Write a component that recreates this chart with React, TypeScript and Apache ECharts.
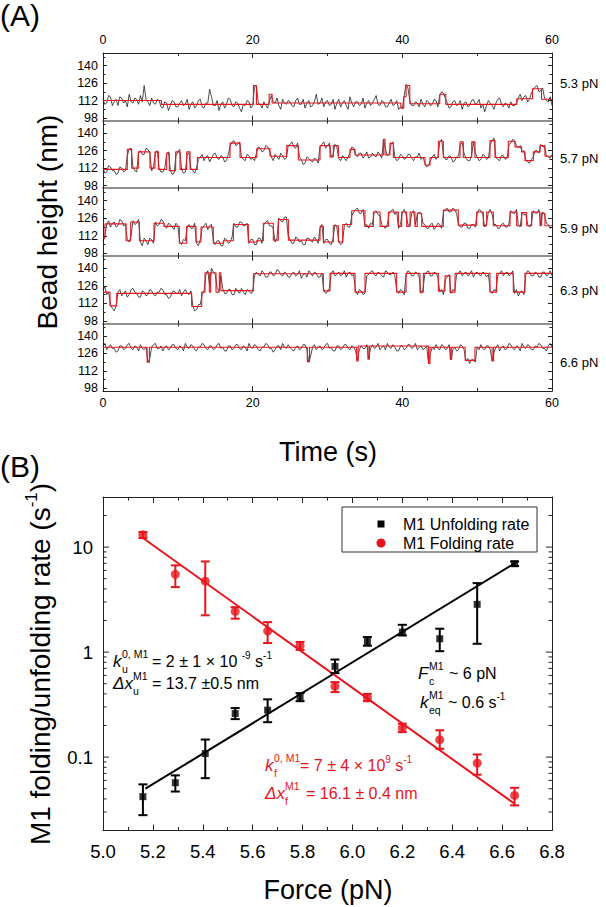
import React, { useEffect, useRef } from 'react';
import * as echarts from 'echarts';

// ---------------- Panel A data ----------------
const timeStep = 0.25; // seconds between trace samples
const forceLabels = ['5.3 pN', '5.7 pN', '5.9 pN', '6.3 pN', '6.6 pN'];
const heightTicks = [98, 112, 126, 140];
const heightMinorTicks = [105, 119, 133, 147];

const trace53 = [
  113, 109, 110, 116, 115, 108, 111, 113, 108, 115, 114, 110, 112, 107, 117, 111, 110, 114, 113, 109,
  116, 111, 124, 113, 111, 108, 114, 110, 109, 113, 112, 107, 106, 111, 110, 104, 108, 112, 111, 107,
  107, 110, 112, 108, 109, 113, 105, 109, 111, 106, 108, 112, 113, 107, 106, 110, 110, 121, 115, 108,
  108, 112, 104, 109, 111, 106, 109, 114, 113, 108, 107, 111, 110, 106, 103, 109, 108, 112, 111, 106,
  108, 123, 124, 110, 109, 106, 111, 108, 106, 112, 116, 111, 110, 114, 108, 105, 113, 110, 109, 112,
  111, 108, 107, 112, 114, 109, 109, 113, 106, 110, 112, 107, 108, 111, 117, 109, 110, 114, 107, 111,
  112, 108, 109, 113, 105, 110, 113, 107, 110, 112, 108, 105, 115, 110, 107, 111, 111, 108, 109, 114,
  106, 110, 112, 108, 110, 113, 116, 109, 108, 112, 111, 107, 107, 110, 113, 108, 109, 112, 105, 107,
  106, 116, 125, 122, 112, 108, 108, 111, 110, 107, 113, 109, 107, 112, 111, 108, 109, 113, 112, 107,
  116, 119, 118, 114, 110, 106, 107, 111, 112, 108, 109, 112, 105, 110, 111, 107, 108, 112, 113, 109,
  110, 113, 106, 109, 103, 108, 112, 110, 108, 105, 110, 113, 114, 109, 107, 110, 109, 106, 111, 108,
  108, 110, 114, 117, 112, 115, 116, 111, 113, 118, 121, 123, 124, 119, 120, 122, 114, 112, 111, 115,
  108,
];
const trace57 = [
  112, 108, 109, 114, 113, 110, 110, 107, 108, 113, 112, 109, 110, 122, 127, 128, 113, 110, 109, 124,
  126, 123, 123, 128, 127, 124, 110, 113, 124, 126, 112, 109, 109, 112, 123, 125, 110, 107, 108, 122,
  125, 127, 111, 108, 109, 123, 124, 112, 110, 108, 112, 119, 121, 123, 118, 121, 122, 117, 120, 123,
  124, 120, 119, 122, 121, 117, 118, 123, 130, 133, 134, 130, 131, 133, 121, 119, 118, 123, 122, 119,
  120, 118, 124, 129, 128, 125, 126, 130, 129, 126, 121, 118, 123, 121, 119, 124, 122, 119, 120, 130,
  131, 133, 129, 128, 132, 121, 119, 115, 116, 121, 120, 118, 117, 120, 119, 116, 129, 131, 133, 128,
  130, 132, 121, 123, 131, 129, 120, 118, 122, 120, 118, 121, 124, 129, 128, 123, 121, 124, 124, 120,
  122, 125, 120, 121, 124, 122, 121, 125, 123, 120, 135, 127, 122, 124, 131, 133, 121, 118, 119, 123,
  122, 119, 120, 123, 123, 120, 118, 121, 121, 124, 119, 121, 116, 113, 114, 118, 121, 123, 119, 121,
  133, 135, 122, 119, 119, 122, 121, 117, 118, 121, 122, 131, 132, 124, 120, 118, 118, 122, 133, 124,
  121, 118, 119, 123, 122, 119, 120, 131, 134, 136, 121, 119, 118, 122, 122, 119, 120, 131, 132, 135,
  134, 130, 128, 130, 125, 126, 119, 117, 116, 119, 121, 126, 126, 124, 131, 129, 129, 122, 121, 120,
  123,
];
const trace59 = [
  108, 112, 121, 124, 119, 122, 123, 119, 120, 125, 124, 120, 121, 109, 107, 112, 124, 121, 122, 125,
  107, 104, 110, 108, 105, 110, 109, 106, 123, 120, 121, 125, 124, 120, 118, 122, 121, 119, 117, 122,
  120, 107, 105, 109, 108, 119, 121, 118, 118, 122, 106, 104, 109, 118, 120, 122, 117, 120, 121, 108,
  105, 108, 108, 104, 104, 110, 109, 106, 107, 111, 122, 119, 119, 123, 123, 120, 120, 122, 106, 109,
  109, 105, 105, 110, 110, 106, 121, 123, 124, 120, 120, 118, 107, 110, 126, 124, 123, 127, 127, 112,
  109, 106, 106, 111, 110, 107, 108, 105, 105, 110, 110, 108, 107, 111, 109, 106, 118, 121, 106, 109,
  109, 106, 105, 110, 121, 119, 108, 105, 106, 120, 122, 119, 119, 128, 131, 133, 134, 130, 130, 133,
  120, 121, 118, 122, 121, 131, 132, 129, 128, 121, 119, 118, 121, 130, 132, 133, 129, 131, 118, 121,
  131, 133, 129, 121, 120, 130, 132, 121, 129, 131, 130, 122, 121, 118, 118, 121, 122, 117, 119, 122,
  121, 118, 131, 133, 134, 131, 131, 134, 133, 130, 121, 119, 119, 122, 122, 118, 118, 121, 121, 119,
  130, 133, 132, 129, 119, 122, 131, 133, 129, 121, 121, 118, 118, 121, 122, 119, 119, 122, 132, 130,
  130, 133, 121, 119, 131, 129, 129, 121, 119, 122, 132, 130, 130, 133, 121, 131, 129, 122, 121, 118,
  119,
];
const trace63 = [
  123, 125, 119, 121, 111, 108, 106, 110, 121, 123, 118, 120, 122, 117, 119, 123, 124, 121, 120, 117,
  117, 122, 121, 118, 119, 123, 122, 119, 118, 121, 121, 124, 123, 119, 119, 116, 117, 121, 122, 120,
  120, 123, 118, 121, 123, 120, 119, 122, 110, 106, 107, 111, 111, 119, 122, 135, 138, 126, 140, 137,
  135, 124, 122, 134, 124, 120, 120, 123, 123, 119, 119, 124, 122, 120, 124, 121, 119, 123, 122, 120,
  121, 134, 137, 135, 134, 138, 136, 133, 133, 137, 137, 134, 135, 139, 138, 135, 134, 137, 136, 133,
  133, 136, 137, 134, 135, 138, 132, 135, 136, 133, 138, 136, 134, 137, 136, 133, 133, 136, 123, 120,
  121, 124, 136, 138, 134, 135, 137, 134, 135, 138, 133, 136, 137, 134, 135, 122, 119, 123, 122, 119,
  120, 134, 135, 137, 138, 135, 134, 137, 136, 134, 133, 138, 137, 135, 135, 137, 134, 122, 120, 123,
  122, 119, 135, 138, 137, 134, 134, 137, 136, 133, 120, 123, 135, 137, 138, 134, 134, 137, 136, 133,
  121, 123, 119, 131, 133, 135, 120, 123, 122, 135, 136, 138, 134, 136, 137, 134, 135, 138, 133, 136,
  137, 135, 134, 137, 136, 133, 135, 122, 120, 123, 122, 134, 136, 138, 134, 136, 137, 134, 135, 138,
  120, 123, 118, 121, 122, 119, 135, 138, 137, 134, 134, 137, 136, 133, 133, 137, 137, 134, 135, 138,
  134,
];
const trace66 = [
  132, 134, 129, 131, 133, 130, 130, 127, 128, 132, 132, 129, 130, 133, 134, 130, 129, 132, 131, 128,
  133, 130, 129, 131, 119, 122, 131, 133, 134, 130, 130, 132, 128, 131, 132, 129, 130, 133, 133, 130,
  129, 132, 131, 128, 134, 131, 130, 133, 132, 129, 128, 131, 131, 134, 133, 130, 129, 132, 132, 129,
  130, 133, 134, 130, 131, 128, 128, 132, 132, 129, 130, 133, 133, 130, 129, 132, 131, 128, 134, 131,
  130, 133, 132, 129, 128, 131, 131, 134, 133, 130, 130, 127, 129, 132, 132, 129, 134, 131, 130, 133,
  131, 129, 128, 131, 132, 129, 130, 133, 133, 129, 119, 124, 131, 133, 129, 131, 132, 129, 130, 133,
  134, 130, 131, 128, 128, 132, 132, 129, 130, 133, 133, 130, 129, 132, 131, 128, 121, 129, 132, 130,
  130, 133, 122, 130, 133, 130, 131, 134, 129, 131, 132, 129, 134, 131, 130, 133, 131, 128, 128, 132,
  132, 129, 130, 133, 133, 130, 131, 134, 129, 131, 132, 129, 130, 132, 118, 126, 131, 129, 133, 130,
  129, 133, 132, 129, 130, 133, 121, 129, 131, 128, 129, 133, 132, 129, 120, 122, 118, 121, 121, 119,
  131, 129, 133, 130, 129, 132, 132, 129, 120, 127, 131, 133, 128, 131, 132, 129, 130, 134, 133, 130,
  129, 132, 131, 128, 134, 131, 130, 133, 132, 129, 129, 132, 131, 134, 133, 130, 130, 128, 132, 134,
  131,
];

// step fits: [time at which the level starts, level]
const fit53 = [
  [0, 112], [7.8, 109], [20.1, 124], [20.5, 109], [22.2, 117], [22.6, 110],
  [39.8, 106], [40.2, 115], [40.5, 124], [41.0, 109.5], [45.0, 117], [45.8, 109],
  [55.3, 113.5], [57.4, 121.5], [58.6, 113], [60, 113],
];
const fit57 = [
  [0, 111], [3.25, 127], [3.83, 112], [4.72, 125], [6.28, 112], [6.95, 125], [7.4, 111],
  [8.51, 124], [8.86, 110], [9.71, 125], [10.29, 111], [11.18, 125], [11.63, 111],
  [12.61, 120.5], [16.97, 132], [18.31, 120.5], [20.54, 127.5], [22.32, 121.5],
  [24.55, 130], [26.1, 118.5], [29.0, 130], [30.34, 121], [30.78, 130], [31.45, 120.5],
  [33.0, 127], [33.68, 122.5], [37.46, 135], [37.69, 122.5], [38.35, 132], [38.8, 120.5],
  [43.03, 114.5], [43.7, 120.5], [44.81, 133.5], [45.48, 120.5], [47.71, 133], [48.15, 120.5],
  [49.27, 133], [49.71, 120.5], [51.71, 134], [52.38, 120.5], [54.16, 133.5], [55.05, 129],
  [55.94, 125], [56.39, 118], [57.5, 125], [58.4, 130], [59.06, 121.5], [60, 121.5],
];
const fit59 = [
  [0, 110], [0.27, 121.5], [3.08, 108], [3.7, 123], [4.86, 108], [6.82, 122], [8.15, 119.5],
  [10.2, 106], [11.18, 119.5], [12.43, 107], [13.1, 119], [14.74, 106], [16.08, 108],
  [17.42, 121], [19.42, 107], [20.54, 108], [21.43, 122], [22.76, 108.5], [23.43, 125],
  [24.77, 108.5], [29.0, 119.5], [29.45, 107], [30.78, 120], [31.45, 107], [32.03, 121],
  [33.23, 132], [35.0, 119.5], [36.13, 131], [37.02, 119.5], [38.13, 131], [39.47, 119.5],
  [39.92, 131], [40.58, 119.5], [41.03, 131], [41.69, 119.5], [42.0, 130], [42.59, 119.5],
  [45.48, 132.5], [47.48, 120.5], [49.93, 131], [50.83, 120], [51.27, 131], [52.16, 120],
  [54.39, 131], [55.28, 120], [55.95, 130.5], [56.62, 120], [57.28, 131], [58.4, 120],
  [58.62, 130], [59.06, 120], [60, 120],
];
const fit63 = [
  [0, 121], [0.94, 110], [1.83, 120], [11.85, 109.5], [13.19, 121], [13.63, 136.5],
  [14.21, 121], [14.39, 136.5], [15.1, 121], [15.55, 136.5], [15.75, 122.2], [20.09, 135.7],
  [29.45, 122], [30.34, 136], [33.68, 121], [35.01, 136], [39.24, 121], [40.49, 136],
  [42.36, 121], [42.81, 136], [44.81, 122], [45.7, 134], [46.37, 121], [47.04, 136],
  [51.71, 121], [52.6, 136], [54.83, 121], [56.39, 136], [60, 136],
];
const fit66 = [
  [0, 131], [5.9, 119], [6.2, 131], [27.3, 119.5], [27.6, 131], [33.9, 120], [34.1, 132],
  [35.4, 121.5], [35.6, 132], [43.5, 118], [43.7, 131], [46.4, 121.5], [46.6, 131],
  [48.4, 120.5], [49.7, 131], [52.0, 120], [52.2, 131], [60, 131],
];

const traces = [trace53, trace57, trace59, trace63, trace66];
const fits = [fit53, fit57, fit59, fit63, fit66];

// ---------------- Panel B data ----------------
const forces = [5.16, 5.29, 5.41, 5.53, 5.66, 5.79, 5.93, 6.06, 6.2, 6.35, 6.5, 6.65];
const unfoldRate = [0.042, 0.057, 0.108, 0.26, 0.28, 0.375, 0.73, 1.26, 1.55, 1.34, 2.85, 6.95];
const unfoldLow = [0.028, 0.047, 0.063, 0.23, 0.215, 0.341, 0.63, 1.15, 1.44, 1.02, 1.2, 6.6];
const unfoldHigh = [0.055, 0.067, 0.147, 0.293, 0.355, 0.407, 0.85, 1.39, 1.82, 1.67, 4.54, 7.3];
const foldRate = [13.1, 5.5, 4.74, 2.44, 1.585, 1.15, 0.471, 0.367, 0.189, 0.1465, 0.0877, 0.0432];
const foldLow = [12.2, 4.16, 2.24, 2.08, 1.22, 1.05, 0.416, 0.341, 0.173, 0.12, 0.068, 0.0347];
const foldHigh = [13.9, 6.7, 7.3, 2.68, 1.93, 1.25, 0.518, 0.4, 0.208, 0.18, 0.106, 0.051];
const unfoldFit = [[5.17, 0.05], [6.65, 7.0]];
const foldFit = [[5.16, 12.2], [6.65, 0.036]];
const rateLabelValues = [0.1, 1, 10];
const rateMinorTicks = [
  0.03, 0.04, 0.05, 0.06, 0.07, 0.08, 0.09,
  0.2, 0.3, 0.4, 0.5, 0.6, 0.7, 0.8, 0.9,
  2, 3, 4, 5, 6, 7, 8, 9, 20,
];
const legendNames = ['M1 Unfolding rate', 'M1 Folding rate'];

// ---------------- layout ----------------
const FONT = '"Liberation Sans", Arial, Helvetica, sans-serif';
const RED = '#e8141c';
const PLOT_LEFT = 103;
const PLOT_WIDTH = 449;
const A_TOP = 53;
const A_HEIGHT = 67.6;
const B_TOP = 497;
const B_HEIGHT = 333.5;
const forceLabelY = [83, 158, 228, 290, 362];

function txt(text: string, x: number, y: number, size: number, color = '#000', opts: any = {}) {
  return {
    type: 'text',
    x,
    y,
    rotation: opts.rotation || 0,
    silent: true,
    style: {
      text,
      fill: color,
      fontSize: size,
      fontFamily: FONT,
      fontStyle: opts.italic ? 'italic' : 'normal',
      align: opts.align || 'left',
      verticalAlign: opts.va || 'middle',
      rich: opts.rich,
    },
  };
}

function richTxt(text: string, x: number, y: number, color: string, main = 16, small = 10) {
  return txt(text, x, y, main, color, {
    rich: {
      m: { fontSize: main, fontFamily: FONT, fill: color, lineHeight: 22, verticalAlign: 'middle' },
      s: { fontSize: small, fontFamily: FONT, fill: color, lineHeight: 12, verticalAlign: 'top' },
    },
  });
}

function symbolTerm(main: string, sup: string, sub: string, x: number, y: number, color: string, w: number) {
  return [
    txt(main, x, y, 17, color, { italic: true }),
    txt(sup, x + w, y - 7.5, 10.5, color),
    txt(sub, x + w, y + 8, 10.5, color),
  ];
}

function buildOption() {
  const grid: any[] = [];
  const xAxis: any[] = [];
  const yAxis: any[] = [];
  const series: any[] = [];
  const frame = { color: '#222', width: 1 };
  const tickStyle = { color: '#222', width: 1 };

  for (let i = 0; i < 5; i++) {
    grid.push({ left: PLOT_LEFT, width: PLOT_WIDTH, top: A_TOP + i * A_HEIGHT, height: A_HEIGHT });
    const common = {
      type: 'value', gridIndex: i, min: 0, max: 60, interval: 20,
      splitLine: { show: false },
      minorSplitLine: { show: false },
      axisTick: { show: true, inside: true, length: 5, lineStyle: tickStyle },
      minorTick: { show: true, splitNumber: 2, length: 3, lineStyle: tickStyle },
    };
    xAxis.push({
      ...common, position: 'bottom',
      axisLine: { show: true, onZero: false, lineStyle: i === 4 ? frame : { color: '#888', width: 1.5 } },
      axisLabel: { show: i === 4, fontSize: 12.5, color: '#000', fontFamily: FONT, margin: 5 },
    });
    xAxis.push({
      ...common, position: 'top',
      axisLine: { show: true, onZero: false, lineStyle: i === 0 ? frame : { color: '#888', width: 1.5 } },
      axisLabel: { show: i === 0, fontSize: 12.5, color: '#000', fontFamily: FONT, margin: 7 },
    });
    const yCommon = { type: 'value', gridIndex: i, min: 96, max: 150, splitLine: { show: false } };
    yAxis.push({
      ...yCommon, position: 'left',
      axisLine: { show: true, onZero: false, lineStyle: frame },
      axisTick: { show: true, inside: true, length: 4, customValues: heightTicks, lineStyle: tickStyle },
      axisLabel: { show: true, customValues: heightTicks, fontSize: 12.5, color: '#000', fontFamily: FONT, margin: 5 },
    });
    yAxis.push({
      ...yCommon, position: 'left',
      axisLine: { show: false, onZero: false },
      axisTick: { show: true, inside: true, length: 2.5, customValues: heightMinorTicks, lineStyle: tickStyle },
      axisLabel: { show: false },
    });
    yAxis.push({
      ...yCommon, position: 'right',
      axisLine: { show: true, onZero: false, lineStyle: frame },
      axisTick: { show: true, inside: true, length: 4, customValues: heightTicks, lineStyle: tickStyle },
      axisLabel: { show: false },
    });
    yAxis.push({
      ...yCommon, position: 'right',
      axisLine: { show: false, onZero: false },
      axisTick: { show: true, inside: true, length: 2.5, customValues: heightMinorTicks, lineStyle: tickStyle },
      axisLabel: { show: false },
    });

    series.push({
      type: 'line', xAxisIndex: 2 * i, yAxisIndex: 4 * i, silent: true,
      data: traces[i].map((v, k) => [k * timeStep, v]),
      symbol: 'none', lineStyle: { color: '#111', width: 0.75 },
    });
    series.push({
      type: 'line', xAxisIndex: 2 * i, yAxisIndex: 4 * i, silent: true, step: 'end',
      data: fits[i], symbol: 'none', lineStyle: { color: RED, width: 1.1 },
    });
  }

  // Panel B
  grid.push({ left: PLOT_LEFT, width: PLOT_WIDTH, top: B_TOP, height: B_HEIGHT });
  const bx = {
    type: 'value', gridIndex: 5, min: 5.0, max: 6.8, interval: 0.2,
    splitLine: { show: false }, minorSplitLine: { show: false },
    axisLine: { show: true, onZero: false, lineStyle: frame },
    axisTick: { show: true, inside: true, length: 6, lineStyle: tickStyle },
    minorTick: { show: true, splitNumber: 2, length: 3.5, lineStyle: tickStyle },
  };
  xAxis.push({
    ...bx, position: 'bottom',
    axisLabel: { show: true, fontSize: 18.5, color: '#000', fontFamily: FONT, margin: 11, formatter: (v: number) => v.toFixed(1) },
  });
  xAxis.push({ ...bx, position: 'top', axisLabel: { show: false } });
  const by = {
    type: 'log', logBase: 10, gridIndex: 5, min: 0.02, max: 30,
    splitLine: { show: false }, minorSplitLine: { show: false },
    axisLine: { show: true, onZero: false, lineStyle: frame },
    axisTick: { show: false },
  };
  yAxis.push({
    ...by, position: 'left',
    axisLabel: {
      show: true, fontSize: 18.5, color: '#000', fontFamily: FONT, margin: 10,
      formatter: (v: number) => {
        const hit = rateLabelValues.find((r) => Math.abs(r - v) / r < 1e-6);
        return hit === undefined ? '' : String(hit);
      },
    },
  });
  yAxis.push({ ...by, position: 'right', axisLabel: { show: false } });

  const xb = 10;
  const yb = 20;
  series.push({
    type: 'line', xAxisIndex: xb, yAxisIndex: yb, data: unfoldFit, symbol: 'none', silent: true,
    lineStyle: { color: '#000', width: 2 }, z: 2,
  });
  series.push({
    type: 'line', xAxisIndex: xb, yAxisIndex: yb, data: foldFit, symbol: 'none', silent: true,
    lineStyle: { color: RED, width: 2 }, z: 2,
  });
  const errBar = (color: string) => (params: any, api: any) => {
    const x = api.value(0);
    const lo = api.coord([x, api.value(1)]);
    const hi = api.coord([x, api.value(2)]);
    const w = 4.5;
    const st = { stroke: color, lineWidth: 2 };
    return {
      type: 'group',
      children: [
        { type: 'line', shape: { x1: lo[0], y1: lo[1], x2: hi[0], y2: hi[1] }, style: st },
        { type: 'line', shape: { x1: lo[0] - w, y1: lo[1], x2: lo[0] + w, y2: lo[1] }, style: st },
        { type: 'line', shape: { x1: hi[0] - w, y1: hi[1], x2: hi[0] + w, y2: hi[1] }, style: st },
      ],
    };
  };
  series.push({
    type: 'custom', xAxisIndex: xb, yAxisIndex: yb, silent: true, z: 3,
    data: forces.map((f, i) => [f, unfoldLow[i], unfoldHigh[i]]),
    encode: { x: 0, y: [1, 2] }, renderItem: errBar('#000'),
  });
  series.push({
    type: 'custom', xAxisIndex: xb, yAxisIndex: yb, silent: true, z: 3,
    data: forces.map((f, i) => [f, foldLow[i], foldHigh[i]]),
    encode: { x: 0, y: [1, 2] }, renderItem: errBar(RED),
  });
  series.push({
    name: legendNames[0], type: 'scatter', xAxisIndex: xb, yAxisIndex: yb, silent: true, z: 4,
    symbol: 'rect', symbolSize: 7, itemStyle: { color: '#000' },
    data: forces.map((f, i) => [f, unfoldRate[i]]),
  });
  series.push({
    name: legendNames[1], type: 'scatter', xAxisIndex: xb, yAxisIndex: yb, silent: true, z: 4,
    symbol: 'circle', symbolSize: 9, itemStyle: { color: RED },
    data: forces.map((f, i) => [f, foldRate[i]]),
  });
  // log-axis ticks (major + minor) on both sides
  const tickMarks = [
    ...rateLabelValues.map((v) => [5.0, v, 1]),
    ...rateMinorTicks.map((v) => [5.0, v, 0]),
  ];
  series.push({
    type: 'custom', xAxisIndex: xb, yAxisIndex: yb, silent: true, z: 5, clip: false,
    data: tickMarks, encode: { x: 0, y: 1 },
    renderItem: (params: any, api: any) => {
      const v = api.value(1);
      const len = api.value(2) === 1 ? 6 : 3.5;
      const pl = api.coord([5.0, v]);
      const pr = api.coord([6.8, v]);
      const st = { stroke: '#222', lineWidth: 1 };
      return {
        type: 'group',
        children: [
          { type: 'line', shape: { x1: pl[0], y1: pl[1], x2: pl[0] + len, y2: pl[1] }, style: st },
          { type: 'line', shape: { x1: pr[0] - len, y1: pr[1], x2: pr[0], y2: pr[1] }, style: st },
        ],
      };
    },
  });

  const graphics: any[] = [
    txt('(A)', 0, 15, 30),
    txt('(B)', 0, 466, 30),
    txt('Bead height (nm)', 47, 222, 28, '#000', { rotation: Math.PI / 2, align: 'center' }),
    txt('Time (s)', 328, 452, 27, '#000', { align: 'center' }),
    txt('Force (pN)', 328, 890, 27, '#000', { align: 'center' }),
    txt('{a|M1 folding/unfolding rate (s}{b|-1}{a|)}', 40, 664, 28, '#000', {
      rotation: Math.PI / 2, align: 'center',
      rich: {
        a: { fontSize: 28, fontFamily: FONT, fill: '#000', lineHeight: 34, verticalAlign: 'middle' },
        b: { fontSize: 17, fontFamily: FONT, fill: '#000', lineHeight: 17, verticalAlign: 'top' },
      },
    }),
    ...forceLabels.map((l, i) => txt(l, 560, forceLabelY[i], 13)),
    // legend
    {
      type: 'rect', silent: true,
      shape: { x: 342, y: 507, width: 195, height: 45 },
      style: { fill: '#fff', stroke: '#333', lineWidth: 1 },
      z: 10,
    },
    { type: 'rect', silent: true, shape: { x: 377.5, y: 520.5, width: 7, height: 7 }, style: { fill: '#000' }, z: 11 },
    { type: 'circle', silent: true, shape: { cx: 381, cy: 543, r: 4.5 }, style: { fill: RED }, z: 11 },
    { ...txt(legendNames[0], 403, 524, 16), z: 11 },
    { ...txt(legendNames[1], 403, 543, 16), z: 11 },
    // annotations (black)
    ...symbolTerm('k', '0, M1', 'u', 113, 661, '#000', 9),
    richTxt('{m|= 2 ± 1 × 10 }{s|-9}{m| s}{s|-1}', 152, 661, '#000'),
    ...symbolTerm('Δx', 'M1', 'u', 113, 683, '#000', 20),
    richTxt('{m|= 13.7 ±0.5 nm}', 152, 683, '#000'),
    ...symbolTerm('F', 'M1', 'c', 418, 673, '#000', 11),
    richTxt('{m|~ 6 pN}', 449, 673, '#000'),
    ...symbolTerm('k', 'M1', 'eq', 420, 702, '#000', 9),
    richTxt('{m|~ 0.6 s}{s|-1}', 448, 702, '#000'),
    // annotations (red)
    ...symbolTerm('k', '0, M1', 'f', 265, 765, RED, 9),
    richTxt('{m|= 7 ± 4 × 10}{s|9}{m| s}{s|-1}', 300, 765, RED),
    ...symbolTerm('Δx', 'M1', 'f', 265, 793, RED, 20),
    richTxt('{m|= 16.1 ± 0.4 nm}', 306, 793, RED),
  ];

  return {
    animation: false,
    backgroundColor: '#fff',
    textStyle: { fontFamily: FONT },
    grid,
    xAxis,
    yAxis,
    series,
    graphic: { elements: graphics },
  };
}

export default function App() {
  const ref = useRef<HTMLDivElement>(null);
  useEffect(() => {
    const chart = echarts.init(ref.current as HTMLDivElement, null, { renderer: 'svg' });
    chart.setOption(buildOption() as any);
    return () => chart.dispose();
  }, []);
  return (
    <div
      ref={ref}
      style={{ position: 'absolute', left: 0, top: 0, width: 606, height: 907, background: '#fff' }}
    />
  );
}
